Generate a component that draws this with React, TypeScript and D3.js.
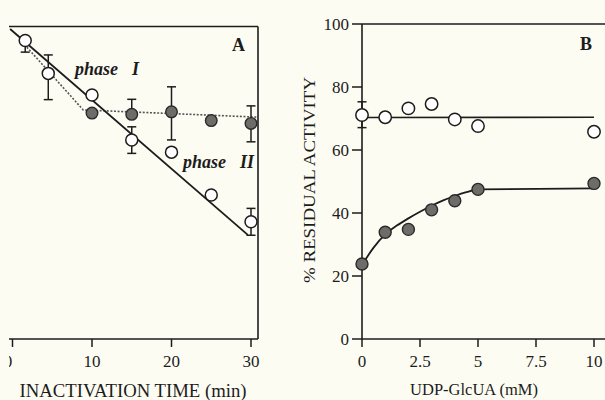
import React from "react";
import * as d3 from "d3";

// ---------- Panel A data ----------
const timeTicks = [0, 10, 20, 30];
const openTimeA = [1.6, 4.5, 10, 15, 20, 25, 30];
const openValA = [95.5, 85, 78.1, 63.7, 59.8, 46.1, 37.5];
const filledTimeA = [10, 15, 20, 25, 30];
const filledValA = [72.3, 71.9, 72.7, 69.9, 69.0];
// error bars [t, low, high]
const openErrA: [number, number, number][] = [
  [1.6, 91.8, 95.5],
  [4.5, 76.6, 90.9],
  [15, 59.4, 67.9],
  [30, 33.2, 41.8],
];
const filledErrA: [number, number, number][] = [
  [15, 72, 76.7],
  [20, 63.7, 80.7],
  [30, 63.1, 74.6],
];
const solidLineA: [number, number][] = [
  [-0.3, 99.2],
  [29.6, 33.3],
];
const dottedLineA: [number, number][] = [
  [1.8, 93.4],
  [8.9, 73.3],
  [30.8, 71.0],
];

// ---------- Panel B data ----------
const concTicks = [0, 2.5, 5, 7.5, 10];
const concTickLabels = ["0", "2.5", "5", "7.5", "10"];
const actTicks = [0, 20, 40, 60, 80, 100];
const concB = [0, 1, 2, 3, 4, 5, 10];
const openValB = [71.1, 70.4, 73.2, 74.6, 69.7, 67.6, 65.8];
const filledValB = [23.8, 33.9, 34.8, 41.0, 43.9, 47.5, 49.4];
const openErrB: [number, number, number][] = [[0, 67.1, 75.3]];
const openFitB: [number, number][] = [
  [0, 70.3],
  [10, 70.4],
];
const filledFitB: [number, number][] = [
  [0, 23.5],
  [0.5, 29],
  [1, 33.2],
  [1.5, 36],
  [2, 38.3],
  [2.5, 40.4],
  [3, 42.3],
  [3.5, 44],
  [4, 45.4],
  [4.5, 46.6],
  [5, 47.5],
  [10, 47.8],
];

const BG = "#fdfcf3";
const INK = "#1c1c1c";
const FILL = "#6c6c68";
const FONT = "'Liberation Serif', 'Times New Roman', serif";

export default function App() {
  const W = 605;
  const H = 400;

  const xA = d3.scaleLinear().domain([0, 30]).range([12.5, 251]);
  const yA = d3.scaleLinear().domain([0, 100]).range([339, 26.5]);
  const xB = d3.scaleLinear().domain([0, 10]).range([362, 594]);
  const yB = d3.scaleLinear().domain([0, 100]).range([339, 24]);

  const lineA = d3
    .line<[number, number]>()
    .x((d) => xA(d[0]))
    .y((d) => yA(d[1]));
  const lineB = d3
    .line<[number, number]>()
    .x((d) => xB(d[0]))
    .y((d) => yB(d[1]));
  const curveB = d3
    .line<[number, number]>()
    .x((d) => xB(d[0]))
    .y((d) => yB(d[1]))
    .curve(d3.curveMonotoneX);

  const cap = 4.5;
  const errBars = (
    data: [number, number, number][],
    xs: d3.ScaleLinear<number, number>,
    ys: d3.ScaleLinear<number, number>,
    key: string
  ) =>
    data.map(([t, lo, hi], i) => (
      <g key={key + i} stroke={INK} strokeWidth={1.5}>
        <line x1={xs(t)} x2={xs(t)} y1={ys(lo)} y2={ys(hi)} />
        <line x1={xs(t) - cap} x2={xs(t) + cap} y1={ys(lo)} y2={ys(lo)} />
        <line x1={xs(t) - cap} x2={xs(t) + cap} y1={ys(hi)} y2={ys(hi)} />
      </g>
    ));

  const aRight = 258;
  const aLeft = 9;
  const aTop = yA(100);
  const base = 339;

  return (
    <svg
      width={W}
      height={H}
      style={{ position: "absolute", left: 0, top: 0 }}
      fontFamily={FONT}
    >
      <rect x={0} y={0} width={W} height={H} fill={BG} />
      <defs>
        <clipPath id="clipA">
          <rect x={aLeft} y={0} width={300} height={H} />
        </clipPath>
      </defs>

      {/* ---------------- Panel A ---------------- */}
      <g clipPath="url(#clipA)">
        <g stroke={INK} strokeWidth={1.6} fill="none">
          <line x1={aLeft} x2={aRight} y1={aTop} y2={aTop} />
          <line x1={aRight} x2={aRight} y1={aTop} y2={base} />
          <line x1={aLeft} x2={aRight} y1={base} y2={base} />
        </g>
        {timeTicks.map((t) => (
          <g key={"ta" + t}>
            <line x1={xA(t)} x2={xA(t)} y1={base} y2={base + 8} stroke={INK} strokeWidth={1.5} />
            <text
              x={t === 0 ? 8 : xA(t)}
              y={366.5}
              fontSize={17}
              textAnchor="middle"
              fill={INK}
            >
              {t}
            </text>
          </g>
        ))}
        <text x={133} y={397} fontSize={18} textAnchor="middle" fill={INK} textLength={227} lengthAdjust="spacingAndGlyphs">
          INACTIVATION TIME (min)
        </text>

        <path d={lineA(dottedLineA) || ""} fill="none" stroke="#555" strokeWidth={1.6} strokeDasharray="2,1.6" />
        <path d={lineA(solidLineA) || ""} fill="none" stroke={INK} strokeWidth={1.8} />

        {errBars(filledErrA, xA, yA, "fa")}
        {errBars(openErrA, xA, yA, "oa")}

        {filledTimeA.map((t, i) => (
          <circle key={"fa" + i} cx={xA(t)} cy={yA(filledValA[i])} r={5.8} fill={FILL} stroke="#2a2a2a" strokeWidth={1.4} />
        ))}
        {openTimeA.map((t, i) => (
          <circle key={"oa" + i} cx={xA(t)} cy={yA(openValA[i])} r={6} fill="#fff" stroke={INK} strokeWidth={1.5} />
        ))}

        <text y={75} fontSize={18} fontStyle="italic" fontWeight="bold" fill={INK}>
          <tspan x={75}>phase</tspan>
          <tspan x={132}>I</tspan>
        </text>
        <text y={168} fontSize={18} fontStyle="italic" fontWeight="bold" fill={INK}>
          <tspan x={183}>phase</tspan>
          <tspan x={240}>II</tspan>
        </text>
        <text x={232} y={51} fontSize={18} fontWeight="bold" fill={INK}>
          A
        </text>
      </g>

      {/* ---------------- Panel B ---------------- */}
      <g stroke={INK} strokeWidth={1.6} fill="none">
        <line x1={xB(0)} x2={W} y1={yB(100)} y2={yB(100)} />
        <line x1={xB(0)} x2={xB(0)} y1={yB(100)} y2={base} />
        <line x1={xB(0)} x2={W} y1={base} y2={base} />
      </g>
      {actTicks.map((v) => (
        <g key={"yb" + v}>
          <line x1={352} x2={xB(0)} y1={yB(v)} y2={yB(v)} stroke={INK} strokeWidth={1.5} />
          <text x={349} y={yB(v)} dy="0.35em" fontSize={17} textAnchor="end" fill={INK}>
            {v}
          </text>
        </g>
      ))}
      {concTicks.map((c, i) => (
        <g key={"xb" + c}>
          <line x1={xB(c)} x2={xB(c)} y1={base} y2={base + 8} stroke={INK} strokeWidth={1.5} />
          <text x={xB(c)} y={366.5} fontSize={17} textAnchor="middle" fill={INK}>
            {concTickLabels[i]}
          </text>
        </g>
      ))}
      <text x={474} y={395} fontSize={16.5} textAnchor="middle" fill={INK}>
        UDP-GlcUA (mM)
      </text>
      <text
        transform={`translate(315,180) rotate(-90)`}
        fontSize={17}
        textAnchor="middle"
        fill={INK}
        textLength={206}
        lengthAdjust="spacingAndGlyphs"
      >
        % RESIDUAL ACTIVITY
      </text>
      <text x={580} y={50} fontSize={18} fontWeight="bold" fill={INK}>
        B
      </text>

      <path d={lineB(openFitB) || ""} fill="none" stroke={INK} strokeWidth={1.6} />
      <path d={curveB(filledFitB) || ""} fill="none" stroke={INK} strokeWidth={1.8} />
      {errBars(openErrB, xB, yB, "ob")}

      {concB.map((c, i) => (
        <circle key={"fb" + i} cx={xB(c)} cy={yB(filledValB[i])} r={6} fill={FILL} stroke="#2a2a2a" strokeWidth={1.4} />
      ))}
      {concB.map((c, i) => (
        <circle key={"ob" + i} cx={xB(c)} cy={yB(openValB[i])} r={6.2} fill="#fff" stroke={INK} strokeWidth={1.5} />
      ))}
    </svg>
  );
}
